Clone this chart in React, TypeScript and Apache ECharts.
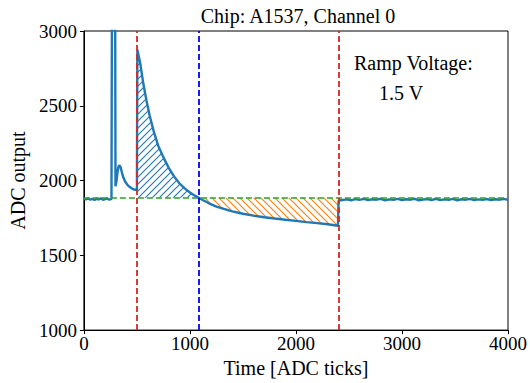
import React, { useEffect, useRef } from "react";
import * as echarts from "echarts";

// Time axis samples [ADC ticks]
const timeTicks = [
  0, 20, 40, 60, 80, 100, 120, 140, 160, 180, 200, 220, 240, 260,
  266, 294, 298,
  306, 316, 326, 336, 346, 358, 372, 390, 410, 430, 450, 470, 490, 500,
  504, 530, 560, 590, 620, 660, 700, 750, 800, 850, 900, 950, 1000, 1040, 1080,
  1120, 1180, 1250, 1320, 1400, 1500, 1600, 1700, 1800, 1900, 2000, 2100, 2200, 2300, 2396,
  2402, 2440, 2480, 2520, 2560, 2600, 2640, 2680, 2720, 2760, 2800, 2840, 2880, 2920, 2960,
  3000, 3040, 3080, 3120, 3160, 3200, 3240, 3280, 3320, 3360, 3400, 3440, 3480, 3520, 3560,
  3600, 3640, 3680, 3720, 3760, 3800, 3840, 3880, 3920, 3960, 4000,
];

// ADC output at each sample
const adcValues = [
  1878, 1874, 1880, 1872, 1877, 1870, 1879, 1873, 1881, 1871, 1876, 1880, 1872, 1877,
  3600, 3600, 1962,
  1990, 2050, 2092, 2102, 2090, 2055, 2020, 1992, 1972, 1958, 1948, 1940, 1938, 1945,
  2875, 2790, 2650, 2535, 2435, 2325, 2235, 2155, 2085, 2028, 1982, 1948, 1920, 1902, 1887,
  1870, 1848, 1826, 1810, 1794, 1778, 1765, 1755, 1746, 1738, 1730, 1722, 1715, 1708, 1698,
  1866, 1870, 1874, 1868, 1876, 1871, 1877, 1869, 1875, 1872, 1878, 1868, 1874, 1871, 1877,
  1869, 1875, 1872, 1878, 1868, 1873, 1876, 1870, 1877, 1869, 1874, 1871, 1878, 1868, 1875,
  1872, 1877, 1869, 1874, 1871, 1876, 1870, 1875, 1872, 1877, 1871,
];

const baselineLevel = 1885;
const rampStart = 500;
const crossingTime = 1080;
const rampEnd = 2400;

const titleText = "Chip: A1537, Channel 0";
const xAxisName = "Time [ADC ticks]";
const yAxisName = "ADC output";
const noteLines = ["Ramp Voltage:", "1.5 V"];

const FONT = "Liberation Serif";

function hatch(color: string, dir: number, size = 7, lw = 1.1) {
  const c = document.createElement("canvas");
  c.width = size;
  c.height = size;
  const ctx = c.getContext("2d")!;
  ctx.strokeStyle = color;
  ctx.lineWidth = lw;
  ctx.beginPath();
  if (dir > 0) {
    ctx.moveTo(-1, size + 1);
    ctx.lineTo(size + 1, -1);
    ctx.moveTo(-1, 1);
    ctx.lineTo(1, -1);
    ctx.moveTo(size - 1, size + 1);
    ctx.lineTo(size + 1, size - 1);
  } else {
    ctx.moveTo(-1, -1);
    ctx.lineTo(size + 1, size + 1);
    ctx.moveTo(size - 1, -1);
    ctx.lineTo(size + 1, 1);
    ctx.moveTo(-1, size - 1);
    ctx.lineTo(1, size + 1);
  }
  ctx.stroke();
  return { image: c.toDataURL(), repeat: "repeat", imageWidth: size, imageHeight: size };
}

const textStyle = (size: number) => ({
  fontFamily: FONT,
  fontSize: size,
  fontWeight: "normal",
  color: "#000",
});

export default function App() {
  const ref = useRef<HTMLDivElement>(null);
  useEffect(() => {
    if (!ref.current) return;
    const chart = echarts.init(ref.current, null, { renderer: "svg" });
    const points = timeTicks.map((t, i) => [t, adcValues[i]]);
    const aboveFill = points.filter((p) => p[0] >= rampStart && p[0] <= crossingTime);
    const belowFill = points.filter((p) => p[0] >= crossingTime && p[0] <= rampEnd);

    const dashLine = (color: string, width: number) => ({
      color,
      width,
      type: [6, 3] as any,
    });

    const gText = (text: string, x: number, y: number, align: string) => ({
      type: "text",
      x,
      y,
      style: {
        text,
        align,
        verticalAlign: "middle",
        fontFamily: FONT,
        fontSize: 20,
        fill: "#000",
      },
    });

    chart.setOption({
      animation: false,
      backgroundColor: "#fff",
      textStyle: { fontFamily: FONT },
      grid: {
        left: 83,
        right: 17,
        top: 31,
        bottom: 49,
        show: true,
        borderColor: "#000",
        borderWidth: 1,
      },
      xAxis: {
        type: "value",
        min: 0,
        max: 4000,
        interval: 1000,
        name: xAxisName,
        nameLocation: "middle",
        nameGap: 27,
        nameTextStyle: textStyle(20),
        axisLine: { show: true, onZero: false, lineStyle: { color: "#000", width: 1 } },
        axisTick: { show: true, length: 4, lineStyle: { color: "#000" } },
        axisLabel: { ...textStyle(19), margin: 4, formatter: (v: number) => String(v) },
        splitLine: { show: false },
      },
      yAxis: {
        type: "value",
        min: 1000,
        max: 3000,
        interval: 500,
        name: yAxisName,
        nameLocation: "middle",
        nameGap: 50,
        nameTextStyle: textStyle(20),
        axisLine: { show: true, onZero: false, lineStyle: { color: "#000", width: 1 } },
        axisTick: { show: true, length: 4, lineStyle: { color: "#000" } },
        axisLabel: { ...textStyle(19), margin: 7, formatter: (v: number) => String(v) },
        splitLine: { show: false },
      },
      series: [
        {
          type: "line",
          data: aboveFill,
          showSymbol: false,
          symbol: "none",
          lineStyle: { width: 0, opacity: 0 },
          areaStyle: { origin: baselineLevel, color: hatch("#1f77b4", 1), opacity: 1 },
          z: 1,
          silent: true,
        },
        {
          type: "line",
          data: belowFill,
          showSymbol: false,
          symbol: "none",
          lineStyle: { width: 0, opacity: 0 },
          areaStyle: { origin: baselineLevel, color: hatch("#ff7f0e", -1), opacity: 1 },
          z: 1,
          silent: true,
        },
        {
          type: "line",
          data: points,
          showSymbol: false,
          symbol: "none",
          lineStyle: { color: "#1f77b4", width: 2.4 },
          z: 2,
          silent: true,
          markLine: {
            silent: true,
            symbol: ["none", "none"],
            label: { show: false },
            data: [
              { yAxis: baselineLevel, lineStyle: dashLine("#2ca02c", 1.6) },
              { xAxis: rampStart, lineStyle: dashLine("#d62728", 1.8) },
              { xAxis: crossingTime, lineStyle: dashLine("#0000ff", 1.8) },
              { xAxis: rampEnd, lineStyle: dashLine("#d62728", 1.8) },
            ],
          },
        },
      ],
      graphic: [
        gText(titleText, 298, 16, "center"),
        gText(noteLines[0], 354, 63, "left"),
        gText(noteLines[1], 379, 93, "left"),
      ],
    });
    return () => chart.dispose();
  }, []);
  return (
    <div
      ref={ref}
      style={{ position: "fixed", left: 0, top: 0, width: 530, height: 383 }}
    />
  );
}
